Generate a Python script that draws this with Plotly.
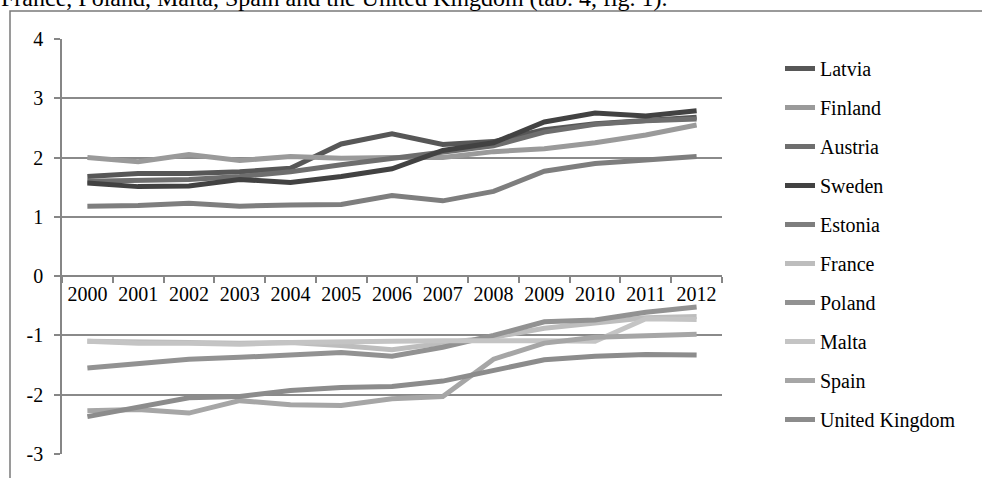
import plotly.graph_objects as go

years = ["2000", "2001", "2002", "2003", "2004", "2005", "2006",
         "2007", "2008", "2009", "2010", "2011", "2012"]

latvia  = [1.68, 1.73, 1.73, 1.76, 1.82, 2.23, 2.40, 2.22, 2.27, 2.47, 2.57, 2.63, 2.68]
finland = [2.00, 1.93, 2.05, 1.95, 2.02, 1.99, 2.00, 2.00, 2.10, 2.15, 2.25, 2.38, 2.55]
austria = [1.60, 1.62, 1.63, 1.68, 1.76, 1.88, 1.98, 2.10, 2.20, 2.43, 2.56, 2.62, 2.65]
sweden  = [1.57, 1.51, 1.52, 1.63, 1.58, 1.68, 1.81, 2.12, 2.25, 2.60, 2.75, 2.70, 2.79]
estonia = [1.18, 1.19, 1.23, 1.18, 1.20, 1.21, 1.36, 1.27, 1.43, 1.77, 1.90, 1.97, 2.02]
france  = [-1.10, -1.12, -1.12, -1.13, -1.12, -1.17, -1.24, -1.13, -1.03, -0.88, -0.79, -0.70, -0.68]
poland  = [-1.55, -1.47, -1.40, -1.37, -1.33, -1.29, -1.35, -1.20, -1.00, -0.77, -0.74, -0.61, -0.52]
malta   = [-1.10, -1.13, -1.13, -1.15, -1.12, -1.10, -1.10, -1.09, -1.08, -1.09, -1.10, -0.72, -0.73]
spain   = [-2.27, -2.25, -2.31, -2.10, -2.17, -2.18, -2.07, -2.03, -1.40, -1.13, -1.03, -1.00, -0.98]
uk      = [-2.37, -2.22, -2.05, -2.03, -1.93, -1.88, -1.86, -1.77, -1.60, -1.41, -1.35, -1.32, -1.33]

names = ["Latvia", "Finland", "Austria", "Sweden", "Estonia",
         "France", "Poland", "Malta", "Spain", "United Kingdom"]
series = [latvia, finland, austria, sweden, estonia,
          france, poland, malta, spain, uk]
colors = ["#575757", "#9a9a9a", "#6e6e6e", "#424242", "#7e7e7e",
          "#bdbdbd", "#929292", "#c4c4c4", "#a6a6a6", "#8c8c8c"]

y_ticks = [-3, -2, -1, 0, 1, 2, 3, 4]
y_labels = ["-3", "-2", "-1", "0", "1", "2", "3", "4"]

FONT = "Liberation Serif, Times New Roman, serif"

fig = go.Figure()
for n, s, c in zip(names, series, colors):
    fig.add_trace(go.Scatter(
        x=years, y=s, name=n, mode="lines", legendgroup=n,
        line=dict(color=c, width=5),
    ))

W, H = 982, 478
ml, mr, mt, mb = 62, 260, 39, 24
pw, ph = W - ml - mr, H - mt - mb

def px_x(p):
    return (p - ml) / pw

def px_y(p):
    return (H - mb - p) / ph

fig.update_layout(
    width=W, height=H,
    margin=dict(l=ml, r=mr, t=mt, b=mb, pad=0),
    paper_bgcolor="white", plot_bgcolor="white",
    font=dict(family=FONT, size=20, color="black"),
    showlegend=True,
    legend=dict(
        x=px_x(780), y=px_y(49), xanchor="left", yanchor="top",
        font=dict(family=FONT, size=20, color="black"),
        tracegroupgap=10, bgcolor="rgba(0,0,0,0)",
        itemwidth=30, maxheight=470,
    ),
    xaxis=dict(
        type="category", anchor="free", position=3 / 7,
        showline=True, linecolor="#868686", linewidth=1.5,
        ticks="outside", tickson="boundaries", ticklen=6,
        tickcolor="#868686", tickwidth=1.5,
        showgrid=False, zeroline=False,
        tickfont=dict(family=FONT, size=20, color="black"),
        range=[-0.5, 12.5],
    ),
    yaxis=dict(
        range=[-3, 4], tickmode="array", tickvals=y_ticks, ticktext=y_labels,
        showline=True, linecolor="#868686", linewidth=1.5,
        ticks="outside", ticklen=6, tickcolor="#868686", tickwidth=1.5,
        showgrid=True, gridcolor="#8a8a8a", gridwidth=1.5,
        zeroline=False,
        tickfont=dict(family=FONT, size=20, color="black"),
        ticklabelstandoff=7,
    ),
)

# outer document frame
fig.add_shape(type="rect", xref="paper", yref="paper",
              x0=px_x(10), x1=px_x(1100), y0=px_y(600), y1=px_y(11),
              line=dict(color="#7a7a7a", width=1.5), layer="below")

fig.add_annotation(
    text="France, Poland, Malta, Spain and the United Kingdom (tab. 4, fig. 1).",
    xref="paper", yref="paper", x=px_x(-1), y=px_y(13),
    xanchor="left", yanchor="bottom", showarrow=False,
    font=dict(family=FONT, size=24, color="black"),
)

fig.write_html("out.html",
               config={"displayModeBar": False},
               post_script="document.body.style.margin='0px';")
